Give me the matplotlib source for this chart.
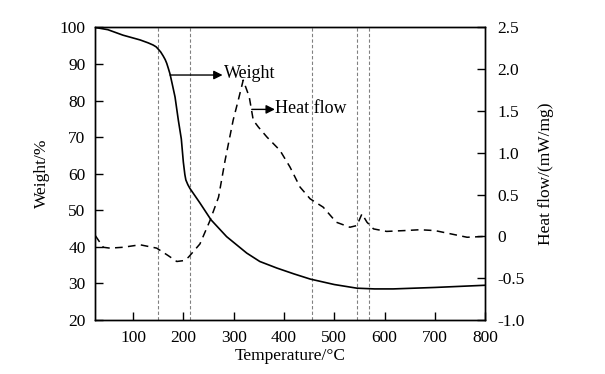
import matplotlib
matplotlib.use("Agg")
import matplotlib.pyplot as plt

# ---- data ----
weight_T = [25, 50, 80, 114, 130, 140, 146, 150, 155, 160, 164, 167, 170, 173.5, 178, 183.5,
            190, 196, 200, 203, 205, 209, 213, 220, 233, 255, 286, 326, 352, 386, 420,
            452, 500, 545, 580, 617, 700, 800]
weight_W = [100, 99.4, 97.9, 96.6, 95.8, 95.2, 94.7, 94.1, 93.3, 92.2, 91.2, 90.2, 88.9, 87.3,
            84.5, 81.0, 74.7, 69.5, 63.2, 59.8, 58.3, 57.0, 56.0, 54.6, 52.0, 47.4, 42.8,
            38.3, 36.0, 34.2, 32.6, 31.2, 29.7, 28.7, 28.5, 28.5, 28.9, 29.5]

heat_T = [25, 34, 41, 54, 80, 114, 147, 170, 187, 200, 210, 233, 253, 270, 283, 299,
          310, 319, 331, 339, 349, 366, 392, 412, 432, 452, 478, 504, 531, 545, 555,
          565, 578, 604, 640, 670, 700, 724, 764, 800]
heat_H = [0.01, -0.07, -0.13, -0.14, -0.13, -0.10, -0.14, -0.23, -0.30, -0.29, -0.25,
          -0.09, 0.19, 0.47, 0.91, 1.39, 1.65, 1.87, 1.67, 1.39, 1.31, 1.19, 1.03, 0.83,
          0.59, 0.45, 0.35, 0.17, 0.11, 0.13, 0.27, 0.17, 0.09, 0.06, 0.07, 0.08, 0.07,
          0.04, -0.01, 0.0]

vlines_T = [150, 213, 455, 545, 570]

x_ticks = [100, 200, 300, 400, 500, 600, 700, 800]
left_ticks = [20, 30, 40, 50, 60, 70, 80, 90, 100]
right_ticks = [-1.0, -0.5, 0, 0.5, 1.0, 1.5, 2.0, 2.5]
right_labels = ["-1.0", "-0.5", "0", "0.5", "1.0", "1.5", "2.0", "2.5"]

plt.rcParams['font.family'] = ['Liberation Serif', 'DejaVu Serif']
FS = 12.5

fig = plt.figure(figsize=(6.05, 3.74), dpi=100)
ax = fig.add_axes([0.1575, 0.1444, 0.6445, 0.7821])
ax2 = ax.twinx()

for t in vlines_T:
    ax.axvline(t, color='#808080', lw=0.8, dashes=(3, 2), zorder=1)

ax.plot(weight_T, weight_W, color='black', lw=1.2, zorder=3)
ax2.plot(heat_T, heat_H, color='black', lw=1.1, dashes=(5, 3.5), zorder=3)

ax.set_xlim(25, 800)
ax.set_ylim(20, 100)
ax2.set_ylim(-1.0, 2.5)

ax.set_xticks(x_ticks)
ax.set_yticks(left_ticks)
ax2.set_yticks(right_ticks)
ax2.set_yticklabels(right_labels)

for a in (ax, ax2):
    a.tick_params(direction='in', length=6, width=1, labelsize=FS, colors='black')
    for s in a.spines.values():
        s.set_linewidth(1.0)
ax.tick_params(axis='x', pad=7)
ax.tick_params(axis='y', pad=7)
ax2.tick_params(axis='y', pad=9)

ax.set_xlabel("Temperature/\u00b0C", fontsize=FS, labelpad=2)
ax.set_ylabel("Weight/%", fontsize=FS, labelpad=7)
ax2.set_ylabel("Heat flow/(mW/mg)", fontsize=FS, labelpad=9)

# annotations
ax.annotate("", xy=(278, 87.0), xytext=(173.5, 87.0),
            arrowprops=dict(arrowstyle='-|>', color='black', lw=1.0,
                            mutation_scale=13, shrinkA=0, shrinkB=0))
ax.text(281, 87.4, "Weight", fontsize=FS + 0.5, va='center', ha='left')
ax.annotate("", xy=(382, 77.6), xytext=(336, 77.6),
            arrowprops=dict(arrowstyle='-|>', color='black', lw=1.0,
                            mutation_scale=13, shrinkA=0, shrinkB=0))
ax.text(383, 77.9, "Heat flow", fontsize=FS + 0.5, va='center', ha='left')

fig.savefig("out.png", dpi=100)
